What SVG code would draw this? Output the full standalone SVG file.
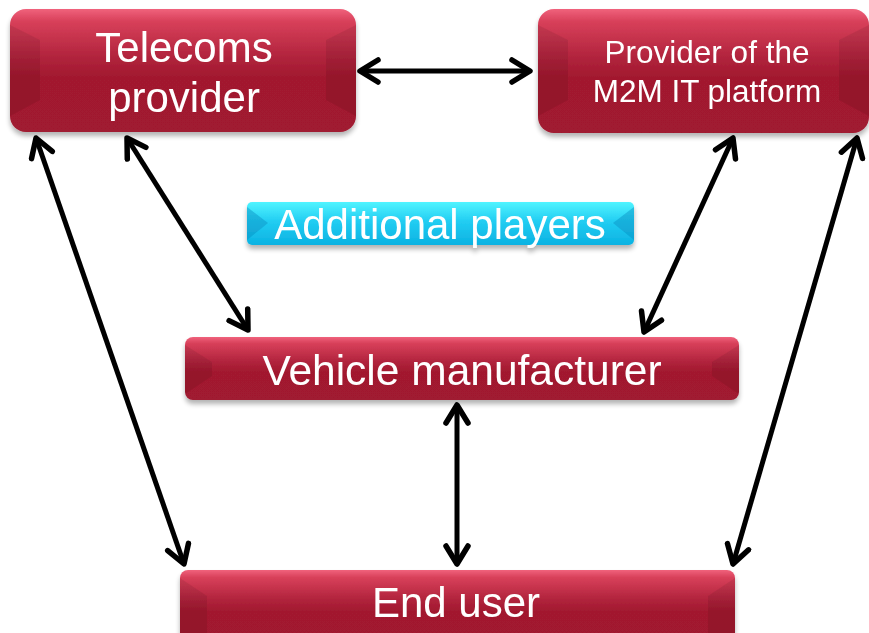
<svg xmlns="http://www.w3.org/2000/svg" width="869" height="633" viewBox="0 0 869 633">
<defs>
<linearGradient id="red" x1="0" y1="0" x2="0" y2="1">
<stop offset="0" stop-color="#f0627c"/>
<stop offset="0.1" stop-color="#d8405a"/>
<stop offset="0.4" stop-color="#b0233c"/>
<stop offset="0.55" stop-color="#a2192f"/>
<stop offset="1" stop-color="#a01a30"/>
</linearGradient>
<linearGradient id="cyan" x1="0" y1="0" x2="0" y2="1">
<stop offset="0" stop-color="#50f4ff"/>
<stop offset="0.45" stop-color="#22cdf2"/>
<stop offset="1" stop-color="#0bb2e2"/>
</linearGradient>
<filter id="sh" x="-10%" y="-10%" width="120%" height="140%">
<feGaussianBlur in="SourceAlpha" stdDeviation="2.5"/>
<feOffset dx="0" dy="4" result="b"/>
<feComponentTransfer><feFuncA type="linear" slope="0.3"/></feComponentTransfer>
<feMerge><feMergeNode/><feMergeNode in="SourceGraphic"/></feMerge>
</filter>
<marker id="ah" viewBox="-24 -14 28 28" markerWidth="28" markerHeight="28" refX="0" refY="0" orient="auto-start-reverse" markerUnits="userSpaceOnUse">
<path d="M-18,-11 L0,0 L-18,11" fill="none" stroke="#000" stroke-width="5.5" stroke-linecap="round" stroke-linejoin="round"/>
</marker>
</defs>
<style>
.red{fill:url(#red);}
.cyan{fill:url(#cyan);}
.bev{fill:#000;opacity:0.08;}
.lbl{font-family:"Liberation Sans",Arial,sans-serif;fill:#fff;text-anchor:middle;}
.con{stroke:#000;stroke-width:5;fill:none;marker-start:url(#ah);marker-end:url(#ah);}
</style>

<g id="connectors">
<line class="con" x1="360" y1="71" x2="530" y2="71"/>
<line class="con" x1="36" y1="138" x2="184" y2="564"/>
<line class="con" x1="127" y1="138" x2="248" y2="330"/>
<line class="con" x1="733" y1="138" x2="644" y2="332"/>
<line class="con" x1="857" y1="138" x2="733" y2="564"/>
<line class="con" x1="457" y1="405" x2="457" y2="564"/>
</g>

<g id="telecoms" filter="url(#sh)">
<rect class="red" x="10" y="9" width="346" height="123" rx="16"/>
<path class="bev" d="M10,25 L40,40 L40,100 L10,116 Z"/>
<path class="bev" d="M356,25 L326,40 L326,100 L356,116 Z"/>
<text class="lbl" x="184" y="62" font-size="42">Telecoms</text>
<text class="lbl" x="184" y="112" font-size="42">provider</text>
</g>

<g id="m2m" filter="url(#sh)">
<rect class="red" x="538" y="9" width="331" height="124" rx="16"/>
<path class="bev" d="M538,25 L568,40 L568,100 L538,116 Z"/>
<path class="bev" d="M869,25 L839,40 L839,100 L869,116 Z"/>
<text class="lbl" x="707" y="63" font-size="31.5">Provider of the</text>
<text class="lbl" x="707" y="102" font-size="31.5">M2M IT platform</text>
</g>

<g id="additional" filter="url(#sh)">
<rect class="cyan" x="247" y="202" width="387" height="43" rx="5"/>
<path d="M247,207 L268,223 L247,240 Z" fill="#0a8fc0" opacity="0.45"/>
<path d="M634,207 L613,223 L634,240 Z" fill="#0a8fc0" opacity="0.45"/>
<text class="lbl" x="440" y="239" font-size="42">Additional players</text>
</g>

<g id="vehicle" filter="url(#sh)">
<rect class="red" x="185" y="337" width="554" height="63" rx="8"/>
<path class="bev" d="M185,345 L212,362 L212,376 L185,394 Z"/>
<path class="bev" d="M739,345 L712,362 L712,376 L739,394 Z"/>
<text class="lbl" x="462" y="385" font-size="42.5">Vehicle manufacturer</text>
</g>

<g id="enduser" filter="url(#sh)">
<rect class="red" x="180" y="570" width="555" height="75" rx="8"/>
<path class="bev" d="M180,578 L207,596 L207,633 L180,633 Z"/>
<path class="bev" d="M735,578 L708,596 L708,633 L735,633 Z"/>
<text class="lbl" x="456" y="617" font-size="42">End user</text>
</g>
</svg>
